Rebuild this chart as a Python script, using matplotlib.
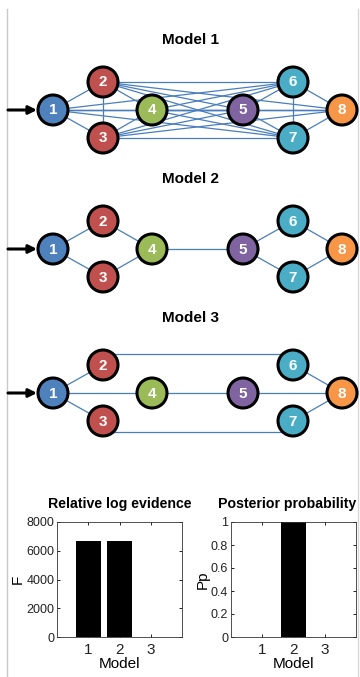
import matplotlib.pyplot as plt
import numpy as np
from matplotlib.patches import Circle

plt.rcParams['font.family'] = ['Liberation Sans', 'DejaVu Sans']

# network nodes
node_ids = [1, 2, 3, 4, 5, 6, 7, 8]
node_colors = ['#4f81bd', '#c0504d', '#c0504d', '#9bbb59',
               '#8064a2', '#4bacc6', '#4bacc6', '#f79646']

# model structures (edges between nodes)
model_names = ['Model 1', 'Model 2', 'Model 3']
edges_m1 = [(i, j) for i in node_ids for j in node_ids if i < j]
edges_m2 = [(1, 2), (1, 3), (2, 4), (3, 4), (4, 5), (5, 6), (5, 7), (6, 8), (7, 8)]
edges_m3 = [(1, 2), (1, 3), (1, 4), (4, 5), (5, 8), (6, 8), (7, 8)]
# long connectors drawn as offset horizontal lines
bypass_m3 = [(2, 6), (3, 7)]

# model comparison
models = [1, 2, 3]
log_evidence = [6650, 6700, 0]
post_prob = [0.0, 1.0, 0.0]

# layout in pixels
W, H = 360, 677
node_x = {1: 53, 2: 103, 3: 103, 4: 152, 5: 243, 6: 293, 7: 293, 8: 342}
node_dy = {1: 0, 2: -28, 3: 28, 4: 0, 5: 0, 6: -28, 7: 28, 8: 0}
rows = [(40, 110), (179, 249), (318, 393)]
R = 15
edge_col = '#4a7ebb'

fig = plt.figure(figsize=(W / 100, H / 100), dpi=100)
ax = fig.add_axes([0, 0, 1, 1])
ax.set_xlim(0, W)
ax.set_ylim(H, 0)
ax.axis('off')

# frame lines at the sides
ax.plot([7, 7], [9, H], color='#c8c8c8', lw=1)
ax.plot([358, 358], [9, H], color='#d8d8d8', lw=1)


def pos(n, yc):
    return node_x[n], yc + node_dy[n]


all_edges = [edges_m1, edges_m2, edges_m3]
for k, (ty, yc) in enumerate(rows):
    ax.text(190, ty, model_names[k], ha='center', va='center',
            fontsize=11, fontweight='bold')
    for a, b in all_edges[k]:
        xa, ya = pos(a, yc)
        xb, yb = pos(b, yc)
        ax.plot([xa, xb], [ya, yb], color=edge_col, lw=0.9, zorder=1)
    if k == 2:
        for a, b in bypass_m3:
            xa, ya = pos(a, yc)
            xb, yb = pos(b, yc)
            off = -11 if ya < yc else 11
            ax.plot([xa, xb], [ya + off, yb + off], color=edge_col, lw=0.9, zorder=1)
    # input arrow
    ax.annotate('', xy=(node_x[1] - R - 1, yc), xytext=(8, yc),
                arrowprops=dict(arrowstyle='-|>', color='black', lw=2.2,
                                mutation_scale=12, shrinkA=0, shrinkB=0))
    for n, c in zip(node_ids, node_colors):
        x, y = pos(n, yc)
        ax.add_patch(Circle((x, y), R, facecolor=c, edgecolor='black', lw=2.2, zorder=3))
        ax.text(x, y + 0.5, str(n), ha='center', va='center', color='white',
                fontsize=11, fontweight='bold', zorder=4)


def bar_axes(rect, vals, ylim, yticks, ylabel, title, title_x=0.5):
    b = fig.add_axes(rect)
    b.bar(models, vals, width=0.8, color='black')
    b.set_xlim(0, 4)
    b.set_ylim(*ylim)
    b.set_xticks(models)
    b.set_yticks(yticks)
    b.tick_params(direction='in', top=True, right=True, length=2, width=0.6,
                  labelcolor='#222222')
    b.tick_params(axis='x', labelsize=11, pad=4)
    b.tick_params(axis='y', labelsize=9, pad=2)
    for s in b.spines.values():
        s.set_linewidth(0.6)
        s.set_color('#333333')
    b.set_xlabel('Model', fontsize=11, labelpad=0)
    b.set_ylabel(ylabel, fontsize=11, labelpad=1)
    b.set_title(title, fontsize=10.2, fontweight='bold', pad=10, x=title_x)
    return b


def rect(x0, x1, y0, y1):
    return [x0 / W, 1 - y1 / H, (x1 - x0) / W, (y1 - y0) / H]


bar_axes(rect(57, 182, 522, 637), log_evidence, (0, 8000),
         [0, 2000, 4000, 6000, 8000], 'F', 'Relative log evidence')
ba = bar_axes(rect(231, 356, 522, 637), post_prob, (0, 1),
              [0, 0.2, 0.4, 0.6, 0.8, 1], 'Pp', 'Posterior probability',
              title_x=0.45)
ba.set_yticklabels(['0', '0.2', '0.4', '0.6', '0.8', '1'])

fig.savefig('out.png', dpi=100)
